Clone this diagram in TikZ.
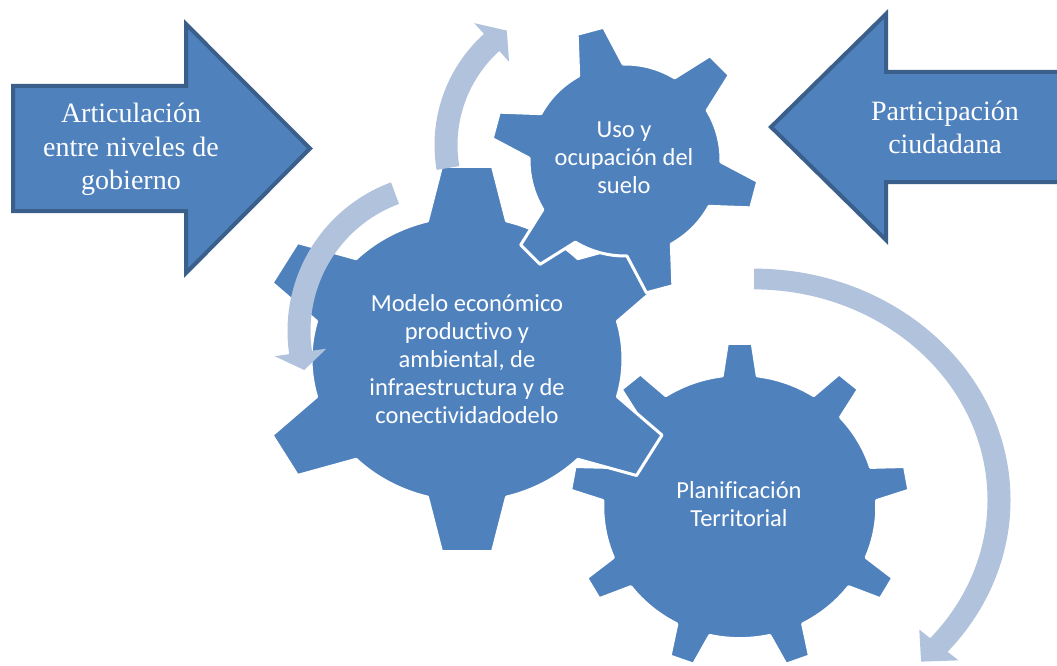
\documentclass[tikz,border=0pt]{standalone}
\usepackage{fontspec}
\setmainfont{Liberation Serif}
\newfontfamily\calibri[Ligatures=NoCommon]{Carlito}
\usepackage{tikz}
\definecolor{gearblue}{HTML}{4F81BD}
\definecolor{ringblue}{HTML}{B1C2DD}
\definecolor{blockedge}{HTML}{3A5F8B}

% #1 centre, #2 yscale, #3 teeth, #4 tip radius, #5 body radius,
% #6 tip half width, #7 base half width, #8 first tooth angle, #9 style
\newcommand{\drawgear}[9]{%
  \pgfmathsetmacro\gtip{asin(#6/#4)}%
  \pgfmathsetmacro\gbase{asin(#7/#5)}%
  \pgfmathsetmacro\gstep{360/#3}%
  \begin{scope}[shift={#1},yscale=#2]
    \filldraw[#9] ({#8-\gbase}:#5)
      \foreach \k in {1,...,#3}{
        -- ({#8+(\k-1)*\gstep-\gbase}:#5) -- ({#8+(\k-1)*\gstep-\gtip}:#4)
        -- ({#8+(\k-1)*\gstep+\gtip}:#4) -- ({#8+(\k-1)*\gstep+\gbase}:#5)
        arc[start angle={#8+(\k-1)*\gstep+\gbase}, end angle={#8+\k*\gstep-\gbase}, radius=#5]
      } -- cycle;
  \end{scope}}

% #1 centre, #2 radius, #3 start angle, #4 head angle, #5 tip angle, #6 yscale
\newcommand{\ringarrow}[6]{%
  \pgfmathsetmacro\rout{#2+11.5}%
  \pgfmathsetmacro\rin{#2-11.5}%
  \pgfmathsetmacro\bout{#2+26}%
  \pgfmathsetmacro\bin{#2-26}%
  \begin{scope}[shift={#1},yscale=#6]
    \fill[ring] (#3:\rout) arc[start angle=#3, end angle=#4, radius=\rout]
      -- (#4:\bout) -- (#5:#2) -- (#4:\bin) -- (#4:\rin)
      arc[start angle=#4, end angle=#3, radius=\rin] -- cycle;
  \end{scope}}

\begin{document}
\begin{tikzpicture}[x=1pt,y=-1pt,
  gear/.style={fill=gearblue,draw=white,line width=3pt,line join=round},
  ring/.style={fill=ringblue},
  block/.style={fill=gearblue,draw=blockedge,line width=4pt},
  geartext/.style={text=white,align=center,font=\calibri\fontsize{24.5}{28}\selectfont},
  blocktext/.style={text=white,align=center,font=\fontsize{28}{33.5}\selectfont}]
  \useasboundingbox (0,0) rectangle (1057,666);
  \clip (0,0) rectangle (1057,666);

  % side arrows
  \draw[block] (13,86) -- (186,86) -- (186,24) -- (310,148.5) -- (186,273) -- (186,211) -- (13,211) -- cycle;
  \node[blocktext] (articulacion) at (131,149.5) {Articulación\\entre niveles de\\gobierno};
  \draw[block] (1075,72) -- (886,72) -- (886,14) -- (771,127) -- (886,240) -- (886,182) -- (1075,182) -- cycle;
  \node[blocktext] (participacion) at (945,127.5) {Participación\\ciudadana};

  % gears, back to front
  \drawgear{(739.75,506.7)}{0.963}{9}{170}{137}{12.5}{17.5}{30}{gear}
  \drawgear{(467,359)}{0.915}{6}{212}{156}{25.5}{39.5}{30}{gear}
  \drawgear{(625,160)}{1}{6}{134.5}{96}{13.7}{23}{15}{gear}
  \node[geartext] (modelo) at (467,359) {Modelo económico\\productivo y\\ambiental, de\\infraestructura y de\\conectividadodelo};
  \node[geartext] (uso) at (624,158) {Uso y\\ocupación del\\suelo};
  \node[geartext] (planificacion) at (739,504) {Planificación\\Territorial};

  % turning arrows
  \ringarrow{(584,145)}{138}{170.4}{228}{236}{1}
  \ringarrow{(446,331)}{147}{249.7}{171.6}{164.6}{1}
  \ringarrow{(754,500)}{245}{-90}{41}{47}{0.902}
\end{tikzpicture}
\end{document}
